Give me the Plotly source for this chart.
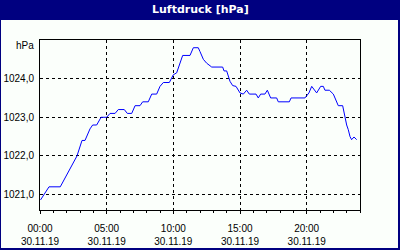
import plotly.graph_objects as go
from datetime import datetime, timedelta

# Data (hours since 30.11.19 00:00, pressure hPa)
hours = [0.04, 0.675, 1.52, 2.775, 3.15, 3.375, 3.75, 3.95, 4.25, 4.43, 4.58, 5.0, 5.25, 5.63,
         5.87, 6.32, 6.55, 6.88, 7.13, 7.5, 7.7, 8.12, 8.38, 8.75, 9.0, 9.25, 9.7, 10.0, 10.25,
         10.7, 11.25, 11.5, 11.87, 12.0, 12.25, 12.5, 12.88, 13.7, 13.8, 14.0, 14.25, 14.45,
         14.7, 15.0, 15.25, 15.5, 15.7, 16.2, 16.37, 16.55, 16.87, 17.05, 17.3, 17.75, 17.87,
         18.7, 18.83, 19.87, 20.05, 20.17, 20.38, 20.63, 20.75, 21.05, 21.25, 21.37, 21.7,
         22.0, 22.25, 22.37, 22.7, 22.87, 23.0, 23.12, 23.25, 23.37, 23.55, 23.75]
pressure = [1020.86, 1021.2, 1021.2, 1022.0, 1022.4, 1022.4, 1022.7, 1022.8, 1022.8, 1022.9,
            1023.0, 1023.0, 1023.1, 1023.1, 1023.2, 1023.2, 1023.1, 1023.1, 1023.3, 1023.3,
            1023.4, 1023.4, 1023.6, 1023.6, 1023.8, 1023.9, 1023.9, 1024.1, 1024.15, 1024.6,
            1024.6, 1024.8, 1024.8, 1024.7, 1024.5, 1024.4, 1024.3, 1024.3, 1024.2, 1024.2,
            1023.93, 1023.82, 1023.8, 1023.63, 1023.6, 1023.7, 1023.6, 1023.6, 1023.5, 1023.6,
            1023.6, 1023.7, 1023.5, 1023.5, 1023.4, 1023.4, 1023.5, 1023.5, 1023.58, 1023.63,
            1023.8, 1023.67, 1023.63, 1023.8, 1023.8, 1023.7, 1023.7, 1023.6, 1023.4, 1023.3,
            1023.3, 1022.98, 1022.8, 1022.68, 1022.5, 1022.42, 1022.49, 1022.42]

ytick_vals = [1021, 1022, 1023, 1024]
ytick_text = ["1021,0", "1022,0", "1023,0", "1024,0"]
unit_label = "hPa"
title_text = "Luftdruck [hPa]"

start = datetime(2019, 11, 30)
times = [start + timedelta(hours=h) for h in hours]

NAVY = "#000080"
BG = "#fbfffb"

# pixel -> paper helpers (plot area: x 40..360, y 40..210)
def px(x):
    return (x - 40) / 320

def py(y):
    return 1 - (y - 40) / 170

fig = go.Figure()
fig.add_trace(go.Scatter(x=times, y=pressure, mode="lines",
                         line=dict(color="#0000ff", width=1), hoverinfo="skip"))

frame = dict(xref="paper", yref="paper", layer="above", line=dict(width=0), fillcolor=NAVY)
fig.update_layout(
    width=400, height=250,
    margin=dict(l=40, r=40, t=40, b=40, autoexpand=False),
    paper_bgcolor=BG,
    plot_bgcolor=BG,
    showlegend=False,
    font=dict(family="Liberation Sans", size=10, color="black"),
    shapes=[
        dict(type="rect", x0=px(0), x1=px(400), y0=py(20), y1=py(0), **frame),   # title bar
        dict(type="rect", x0=px(0), x1=px(1), y0=py(250), y1=py(0), **frame),    # left
        dict(type="rect", x0=px(398), x1=px(400), y0=py(250), y1=py(0), **frame),  # right
        dict(type="rect", x0=px(0), x1=px(400), y0=py(250), y1=py(248), **frame),  # bottom
    ],
    annotations=[
        dict(text="<b>" + title_text + "</b>", xref="paper", yref="paper",
             x=0.5, y=py(10), xanchor="center", yanchor="middle",
             showarrow=False, font=dict(color="white", size=11, family="DejaVu Sans")),
        dict(text=unit_label, xref="paper", yref="paper",
             x=px(36), y=py(45), xanchor="right", yanchor="middle",
             showarrow=False, font=dict(color="black", size=10, family="Liberation Sans")),
    ],
)

fig.update_xaxes(
    type="date", automargin=False,
    range=[start, start + timedelta(hours=24)],
    tickmode="linear", tick0=start, dtick=5 * 3600 * 1000,
    tickformat="%H:%M<br>%d.%m.%y",
    showgrid=True, gridcolor="black", gridwidth=1, griddash="3px,3px",
    showline=True, linecolor="black", linewidth=1, mirror=True,
    ticks="outside", ticklen=3, tickcolor="black", ticklabelstandoff=6,
    minor=dict(dtick=3600 * 1000, ticks="outside", ticklen=2, tickcolor="black", showgrid=False),
    zeroline=False, fixedrange=True,
)
fig.update_yaxes(
    automargin=False,
    range=[1020.6, 1025.0],
    tickmode="array", tickvals=ytick_vals, ticktext=ytick_text,
    showgrid=True, gridcolor="black", gridwidth=1, griddash="3px,3px",
    showline=True, linecolor="black", linewidth=1, mirror=True,
    ticks="", ticklabelstandoff=3,
    zeroline=False, fixedrange=True,
)

fig.write_html("out.html", config=dict(displayModeBar=False))
